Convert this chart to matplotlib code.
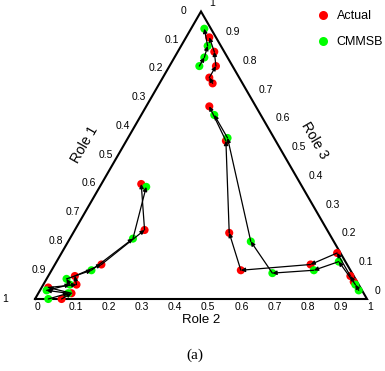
import numpy as np
import matplotlib
matplotlib.use("Agg")
import matplotlib.pyplot as plt
from matplotlib.lines import Line2D

plt.rcParams['font.family'] = ['Liberation Sans', 'DejaVu Sans']

# role shares (Role 1, Role 2, Role 3), each trajectory in time order
top_actual_r1 = [0.09, 0.09, 0.05, 0.03, 0.02]
top_actual_r2 = [0.16, 0.14, 0.14, 0.11, 0.07]
top_actual_r3 = [0.75, 0.77, 0.81, 0.86, 0.91]
top_cmmsb_r1 = [0.10, 0.07, 0.04, 0.02]
top_cmmsb_r2 = [0.09, 0.09, 0.08, 0.04]
top_cmmsb_r3 = [0.81, 0.84, 0.88, 0.94]

mid_actual_r1 = [0.01, 0.01, 0.01, 0.11, 0.33, 0.30, 0.15, 0.14]
mid_actual_r2 = [0.93, 0.91, 0.83, 0.77, 0.57, 0.47, 0.30, 0.19]
mid_actual_r3 = [0.06, 0.08, 0.16, 0.12, 0.10, 0.23, 0.55, 0.67]
mid_cmmsb_r1 = [0.01, 0.01, 0.02, 0.11, 0.24, 0.25, 0.14, 0.14]
mid_cmmsb_r2 = [0.96, 0.94, 0.85, 0.79, 0.67, 0.55, 0.30, 0.22]
mid_cmmsb_r3 = [0.03, 0.05, 0.13, 0.10, 0.09, 0.20, 0.56, 0.64]

left_actual_r1 = [0.92, 0.88, 0.94, 0.85, 0.84, 0.74, 0.55, 0.48]
left_actual_r2 = [0.08, 0.10, 0.02, 0.10, 0.08, 0.14, 0.21, 0.12]
left_actual_r3 = [0.00, 0.02, 0.04, 0.05, 0.08, 0.12, 0.24, 0.40]
left_cmmsb_r1 = [0.96, 0.89, 0.95, 0.87, 0.87, 0.78, 0.60, 0.47]
left_cmmsb_r2 = [0.04, 0.09, 0.02, 0.08, 0.06, 0.12, 0.19, 0.14]
left_cmmsb_r3 = [0.00, 0.02, 0.03, 0.05, 0.07, 0.10, 0.21, 0.39]

tick_vals = [0, 0.1, 0.2, 0.3, 0.4, 0.5, 0.6, 0.7, 0.8, 0.9, 1]
tick_labels = ['0', '0.1', '0.2', '0.3', '0.4', '0.5', '0.6', '0.7', '0.8', '0.9', '1']


def tern(r1, r2, r3):
    r2 = np.asarray(r2, dtype=float)
    r3 = np.asarray(r3, dtype=float)
    return r2 + 0.5 * r3, np.sqrt(3) / 2 * r3


fig = plt.figure(figsize=(3.85, 3.71), dpi=100)
ax = fig.add_axes([0, 0, 1, 1])
ax.set_xlim(-35 / 332, 350 / 332)
ax.set_ylim(-72 / 332, 299 / 332)
ax.axis('off')

# triangle
tx, ty = tern([1, 0, 0, 1], [0, 1, 0, 0], [0, 0, 1, 0])
ax.plot(tx, ty, color='black', lw=1.5, solid_joinstyle='miter', zorder=2)

trajectories = [
    (top_actual_r1, top_actual_r2, top_actual_r3, top_cmmsb_r1, top_cmmsb_r2, top_cmmsb_r3),
    (mid_actual_r1, mid_actual_r2, mid_actual_r3, mid_cmmsb_r1, mid_cmmsb_r2, mid_cmmsb_r3),
    (left_actual_r1, left_actual_r2, left_actual_r3, left_cmmsb_r1, left_cmmsb_r2, left_cmmsb_r3),
]

for a1, a2, a3, c1, c2, c3 in trajectories:
    ax_, ay_ = tern(a1, a2, a3)
    cx_, cy_ = tern(c1, c2, c3)
    ax.scatter(ax_, ay_, s=34, color='#ff0000', edgecolors='none', zorder=3)
    ax.scatter(cx_, cy_, s=34, color='#00ff00', edgecolors='none', zorder=3)
    for xs, ys in [(ax_, ay_), (cx_, cy_)]:
        for i in range(len(xs) - 1):
            ax.annotate('', xy=(xs[i + 1], ys[i + 1]), xytext=(xs[i], ys[i]),
                        arrowprops=dict(arrowstyle='-|>', color='black', lw=0.9,
                                        mutation_scale=6, shrinkA=0, shrinkB=0),
                        zorder=4)

px = 0.72  # one pixel in points
fs = 7.5
for v, lab in zip(tick_vals, tick_labels):
    # Role 2 along the bottom
    bx, by = tern(1 - v, v, 0)
    ax.annotate(lab, (bx, by), xytext=(0, -8 * px), textcoords='offset points',
                ha='left', va='center', fontsize=fs)
    # Role 3 along the right edge
    rx, ry = tern(0, 1 - v, v)
    ax.annotate(lab, (rx, ry), xytext=(8 * px, 8 * px), textcoords='offset points',
                ha='left', va='center', fontsize=fs)
    # Role 1 along the left edge
    lx, ly = tern(v, 0, 1 - v)
    off = -5
    if v == 0:
        off = -15
    elif v == 1:
        off = -27
    ax.annotate(lab, (lx, ly), xytext=(off * px, 0.5 * px), textcoords='offset points',
                ha='right', va='center', fontsize=fs)

ax.text(50 / 332, 154 / 332, 'Role 1', rotation=60, ha='center', va='center', fontsize=10)
ax.text(280 / 332, 159 / 332, 'Role 3', rotation=-60, ha='center', va='center', fontsize=10)
ax.text(166 / 332, -21 / 332, 'Role 2', ha='center', va='center', fontsize=9.5)
ax.text(160 / 332, -56 / 332, '(a)', ha='center', va='center', fontsize=11,
        family=['Liberation Serif', 'DejaVu Serif'])

handles = [Line2D([], [], ls='none', marker='o', ms=6.5, color='#ff0000', mec='none'),
           Line2D([], [], ls='none', marker='o', ms=6.5, color='#00ff00', mec='none')]
ax.legend(handles, ['Actual', 'CMMSB'], loc='center', frameon=False, fontsize=9,
          bbox_to_anchor=(350 / 385, 1 - 29 / 371), bbox_transform=fig.transFigure,
          handlelength=1.0, handletextpad=0.6, labelspacing=1.1, borderpad=0.2)

fig.savefig('out.png', dpi=100)
